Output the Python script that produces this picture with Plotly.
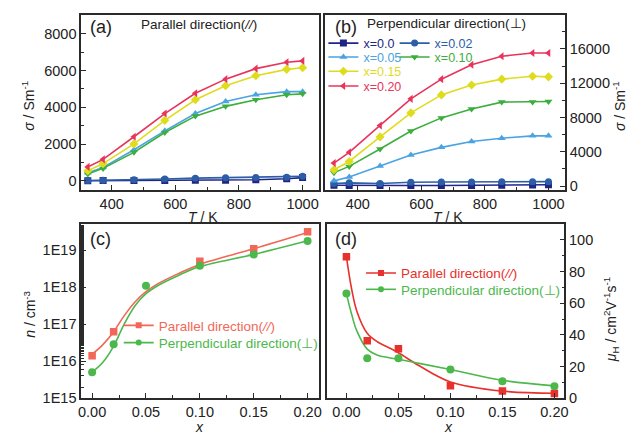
import plotly.graph_objects as go

W, H = 631, 433

# ---------------- data ----------------
T_K = [325, 373, 470, 567, 663, 758, 853, 950, 1000]
x_labels = ["x=0.0", "x=0.02", "x=0.05", "x=0.10", "x=0.15", "x=0.20"]

sigma_par = {
    "x=0.0":  [10, 15, 20, 25, 30, 40, 60, 120, 180],
    "x=0.02": [20, 30, 60, 100, 150, 170, 180, 200, 250],
    "x=0.05": [440, 730, 1690, 2720, 3660, 4320, 4680, 4850, 4850],
    "x=0.10": [370, 680, 1550, 2630, 3520, 4050, 4410, 4680, 4730],
    "x=0.15": [550, 940, 2010, 3290, 4410, 5170, 5710, 6060, 6150],
    "x=0.20": [760, 1170, 2400, 3660, 4760, 5530, 6100, 6450, 6520],
}
sigma_perp = {
    "x=0.0":  [100, 80, 60, 60, 70, 80, 100, 120, 150],
    "x=0.02": [310, 380, 300, 450, 480, 490, 500, 500, 520],
    "x=0.05": [610, 1070, 2340, 3640, 4520, 5210, 5590, 5860, 5860],
    "x=0.10": [1570, 2300, 4330, 6430, 7960, 9000, 9800, 9800, 9880],
    "x=0.15": [1910, 2870, 5740, 8540, 10640, 11790, 12480, 12820, 12750],
    "x=0.20": [2680, 3940, 7080, 10180, 12480, 14160, 15160, 15540, 15540],
}
sigma_perp_ticks = [0, 4000, 8000, 12000, 16000]

x_dop = [0.00, 0.02, 0.05, 0.10, 0.15, 0.20]
n_par_x = [0.00, 0.02, 0.10, 0.15, 0.20]
n_par = [1.4e16, 6.3e16, 5.1e18, 1.1e19, 3.2e19]
n_perp = [5.0e15, 2.9e16, 1.1e18, 3.8e18, 7.7e18, 1.8e19]

# fitted curves
n_fit_x = [0.0, 0.01, 0.02, 0.03, 0.04, 0.05, 0.06, 0.08, 0.10, 0.15, 0.20]
n_fit_par_log = [16.19, 16.45, 16.80, 17.24, 17.61, 17.88, 18.08, 18.37, 18.62, 19.04, 19.48]
n_fit_perp_log = [15.70, 15.97, 16.41, 17.02, 17.51, 17.83, 18.03, 18.32, 18.56, 18.89, 19.26]

mu_par = [89.3, 36.3, 31.2, 7.8, 4.5, 2.9]
mu_perp = [66.1, 25.3, 25.3, 18.1, 10.7, 7.6]
mu_fit_x = [0.0, 0.005, 0.01, 0.02, 0.03, 0.04, 0.05, 0.07, 0.10, 0.15, 0.20]
mu_fit_par = [89.3, 69.0, 55.0, 41.0, 35.5, 32.2, 28.7, 20.5, 10.3, 4.5, 3.1]
mu_fit_perp = [66.1, 53.0, 42.5, 31.0, 27.2, 25.7, 24.6, 22.0, 18.1, 11.3, 7.8]

n_ticks = [1e15, 1e16, 1e17, 1e18, 1e19]
n_ticktext = ["1E15", "1E16", "1E17", "1E18", "1E19"]

# ---------------- styles ----------------
FONT = "Liberation Sans, Arial, sans-serif"
TXT = "#222222"
colors = {
    "x=0.0": "#1f2586", "x=0.02": "#2c5ea8", "x=0.05": "#4aa3e2",
    "x=0.10": "#3cae3c", "x=0.15": "#dfdc1e", "x=0.20": "#e8345c",
}
symbols = {
    "x=0.0": "square", "x=0.02": "circle", "x=0.05": "triangle-up",
    "x=0.10": "triangle-down", "x=0.15": "diamond", "x=0.20": "triangle-left",
}
# legend box (panel b, two columns) of each series
legend_of = {
    "x=0.0": "legend", "x=0.02": "legend2",
    "x=0.05": "legend3", "x=0.10": "legend4",
    "x=0.15": "legend5", "x=0.20": "legend6",
}
RED_C = "#f26757"
RED_D = "#e8302c"
GREEN = "#4cb84c"
AX = "#2a2a2a"


def px_x(p):
    return p / W


def px_y(p):
    return 1 - p / H


def colored(text, c):
    return "<span style='color:%s'>%s</span>" % (c, text)


fig = go.Figure()

# panel (a)
for k in x_labels:
    fig.add_trace(go.Scatter(
        x=T_K, y=sigma_par[k], mode="lines+markers", xaxis="x", yaxis="y",
        line=dict(color=colors[k], width=1.6),
        marker=dict(symbol=symbols[k], size=7, color=colors[k]),
        showlegend=False, name=k))

# panel (b)
for k in x_labels:
    fig.add_trace(go.Scatter(
        x=T_K, y=sigma_perp[k], mode="lines+markers", xaxis="x2", yaxis="y2",
        line=dict(color=colors[k], width=1.6),
        marker=dict(symbol=symbols[k], size=7, color=colors[k]),
        name=colored(k, colors[k]), legend=legend_of[k]))

PAR_TXT = "Parallel direction(<i>//</i>)"
PERP_TXT = "Perpendicular direction(⊥)"

# panel (c)
fig.add_trace(go.Scatter(x=n_fit_x, y=[10 ** v for v in n_fit_par_log], mode="lines",
                         line=dict(color=RED_C, width=1.6, shape="spline"),
                         xaxis="x3", yaxis="y3", showlegend=False))
fig.add_trace(go.Scatter(x=n_fit_x, y=[10 ** v for v in n_fit_perp_log], mode="lines",
                         line=dict(color=GREEN, width=1.6, shape="spline"),
                         xaxis="x3", yaxis="y3", showlegend=False))
fig.add_trace(go.Scatter(x=n_par_x, y=n_par, mode="markers",
                         marker=dict(symbol="square", size=7.5, color=RED_C),
                         xaxis="x3", yaxis="y3", showlegend=False))
fig.add_trace(go.Scatter(x=x_dop, y=n_perp, mode="markers",
                         marker=dict(symbol="circle", size=8, color=GREEN),
                         xaxis="x3", yaxis="y3", showlegend=False))
fig.add_trace(go.Scatter(x=[None], y=[None], mode="lines+markers",
                         line=dict(color=RED_C, width=1.6),
                         marker=dict(symbol="square", size=6, color=RED_C),
                         xaxis="x3", yaxis="y3", legend="legend7",
                         name=colored(PAR_TXT, RED_C)))
fig.add_trace(go.Scatter(x=[None], y=[None], mode="lines+markers",
                         line=dict(color=GREEN, width=1.6),
                         marker=dict(symbol="circle", size=6, color=GREEN),
                         xaxis="x3", yaxis="y3", legend="legend8",
                         name=colored(PERP_TXT, GREEN)))

# panel (d)
fig.add_trace(go.Scatter(x=mu_fit_x, y=mu_fit_par, mode="lines",
                         line=dict(color=RED_D, width=1.6, shape="spline"),
                         xaxis="x4", yaxis="y4", showlegend=False))
fig.add_trace(go.Scatter(x=mu_fit_x, y=mu_fit_perp, mode="lines",
                         line=dict(color=GREEN, width=1.6, shape="spline"),
                         xaxis="x4", yaxis="y4", showlegend=False))
fig.add_trace(go.Scatter(x=x_dop, y=mu_par, mode="markers",
                         marker=dict(symbol="square", size=7.5, color=RED_D),
                         xaxis="x4", yaxis="y4", showlegend=False))
fig.add_trace(go.Scatter(x=x_dop, y=mu_perp, mode="markers",
                         marker=dict(symbol="circle", size=8, color=GREEN),
                         xaxis="x4", yaxis="y4", showlegend=False))
fig.add_trace(go.Scatter(x=[None], y=[None], mode="lines+markers",
                         line=dict(color=RED_D, width=1.6),
                         marker=dict(symbol="square", size=6, color=RED_D),
                         xaxis="x4", yaxis="y4", legend="legend9",
                         name=colored(PAR_TXT, RED_D)))
fig.add_trace(go.Scatter(x=[None], y=[None], mode="lines+markers",
                         line=dict(color=GREEN, width=1.6),
                         marker=dict(symbol="circle", size=6, color=GREEN),
                         xaxis="x4", yaxis="y4", legend="legend10",
                         name=colored(PERP_TXT, GREEN)))


# ---------------- axes ----------------
def axis(domain, rng, dtick, minor_dtick, side=None, anchor=None, **kw):
    d = dict(domain=domain, range=rng, showgrid=False, zeroline=False,
             showline=True, linecolor=AX, linewidth=1.5, mirror=True,
             ticks="inside", ticklen=5, tickwidth=1.3, tickcolor=AX,
             minor=dict(ticks="inside", ticklen=3, tickwidth=1.1,
                        tickcolor=AX, showgrid=False),
             tickfont=dict(family=FONT, size=14.5, color=TXT),
             anchor=anchor)
    if dtick is not None:
        d["dtick"] = dtick
        d["tick0"] = 0
    if minor_dtick is not None:
        d["minor"]["dtick"] = minor_dtick
        d["minor"]["tick0"] = 0
    if side:
        d["side"] = side
    d.update(kw)
    return d


xa = [px_x(79), px_x(320)]
xb = [px_x(326), px_x(568.3)]
xc = [px_x(79), px_x(320)]
xd = [px_x(327.3), px_x(567.7)]
ytop = [px_y(193.3), px_y(15)]
ybot = [px_y(405.7), px_y(228.3)]

layout_axes = dict(
    xaxis=axis(xa, [304, 1053], 200, 100, anchor="y"),
    yaxis=axis(ytop, [-480, 9030], 2000, 1000, anchor="x"),
    xaxis2=axis(xb, [298, 1052], 200, 100, anchor="y2"),
    yaxis2=axis(ytop, [-425, 20000], None, 2000, side="right", anchor="x2",
                tickvals=sigma_perp_ticks, tickformat="d"),
    xaxis3=axis(xc, [-0.0102, 0.211], 0.05, 0.025, anchor="y3", tickformat=".2f"),
    yaxis3=axis(ybot, [15, 19.71], None, None, anchor="x3", type="log",
                tickvals=n_ticks, ticktext=n_ticktext),
    xaxis4=axis(xd, [-0.019, 0.2096], 0.05, 0.025, anchor="y4", tickformat=".2f"),
    yaxis4=axis(ybot, [0, 110], 20, 10, side="right", anchor="x4"),
)


def ann(text, x, y, size=14, xanchor="center", angle=0, color=TXT):
    return dict(text=text, x=px_x(x), y=px_y(y), xref="paper", yref="paper",
                xanchor=xanchor, yanchor="middle", showarrow=False,
                textangle=angle, font=dict(family=FONT, size=size, color=color))


SIGMA_T = "<i>σ</i> / Sm<sup>-1</sup>"
annotations = [
    ann("(a)", 86, 27.5, 18, "left"),
    ann(PAR_TXT, 198, 25, 13.5),
    ann("(b)", 334, 27, 18, "left"),
    ann(PERP_TXT, 448, 24, 13.5),
    ann("(c)", 86, 243, 18, "left"),
    ann("(d)", 334, 243, 18, "left"),
    # axis titles
    ann("<i>T</i> / K", 202, 221),
    ann("<i>T</i> / K", 450, 221),
    ann("<i>x</i>", 199, 435),
    ann("<i>x</i>", 450, 435),
    ann(SIGMA_T, 25, 108, 14, angle=-90),
    ann(SIGMA_T, 623, 108, 14, angle=-90),
    ann("<i>n</i> / cm<sup>-3</sup>", 27, 320, 14, angle=-90),
    ann("<i>μ</i><sub>H</sub> / cm<sup>2</sup>V<sup>-1</sup>s<sup>-1</sup>", 615, 326, 14,
        angle=-90),
]


def leg(x, y, size):
    return dict(x=px_x(x), y=px_y(y), xanchor="left", yanchor="middle",
                orientation="h", bgcolor="rgba(0,0,0,0)", borderwidth=0,
                font=dict(family=FONT, size=size), itemwidth=30)


fig.update_layout(
    width=W, height=H, margin=dict(l=0, r=0, t=0, b=0),
    paper_bgcolor="white", plot_bgcolor="white",
    font=dict(family=FONT, size=13, color=TXT),
    annotations=annotations,
    legend=leg(324, 44.3, 12.5),
    legend2=leg(396, 44.3, 12.5),
    legend3=leg(324, 58.5, 12.5),
    legend4=leg(396, 58.5, 12.5),
    legend5=leg(324, 73, 12.5),
    legend6=leg(324, 88, 12.5),
    legend7=leg(117, 331.7, 13.5),
    legend8=leg(117, 349.3, 13.5),
    legend9=leg(362, 278.3, 13.5),
    legend10=leg(362, 295, 13.5),
    **layout_axes,
)

fig.write_html("out.html")
